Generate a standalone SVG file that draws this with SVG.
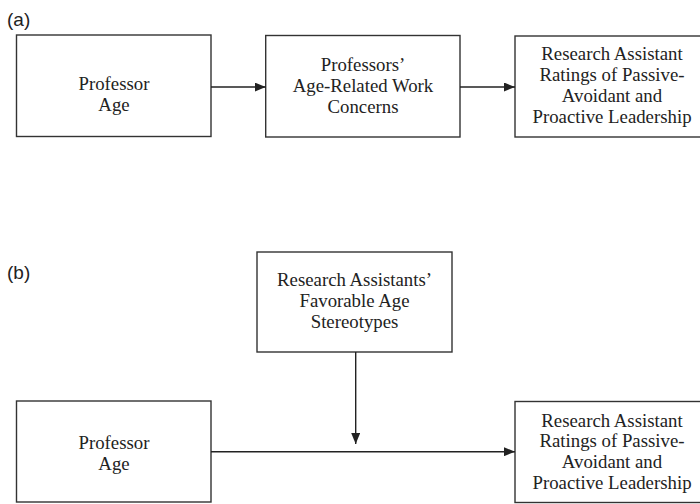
<svg xmlns="http://www.w3.org/2000/svg" width="700" height="504" viewBox="0 0 700 504">
<style>
.box{fill:#fff;stroke:#333;stroke-width:1.4}
.t{font-family:"Liberation Serif","Times New Roman",serif;font-size:18.8px;fill:#222;text-anchor:middle}
.lab{font-family:"Liberation Sans",Arial,sans-serif;font-size:19px;fill:#222}
.c{stroke:#222;stroke-width:1.4;fill:none}
</style>
<defs>
<marker id="ah" markerWidth="11" markerHeight="9" refX="11" refY="4.5" orient="auto" markerUnits="userSpaceOnUse">
<path d="M0,0 L11,4.5 L0,9 Z" fill="#222"/>
</marker>
</defs>
<rect width="700" height="504" fill="#fff"/>
<text class="lab" x="7" y="26">(a)</text>
<text class="lab" x="7" y="279">(b)</text>
<g id="a-professor-age">
<rect class="box" x="16.5" y="35" width="194.5" height="101.5"/>
<text class="t" x="114" y="90">Professor</text>
<text class="t" x="114" y="110.5">Age</text>
</g>
<g id="a-concerns">
<rect class="box" x="265.7" y="35.5" width="194.3" height="101.5"/>
<text class="t" x="363" y="70.5">Professors’</text>
<text class="t" x="363" y="91.5">Age-Related Work</text>
<text class="t" x="363" y="112.5">Concerns</text>
</g>
<g id="a-ratings">
<rect class="box" x="515" y="36" width="200" height="101"/>
<text class="t" x="612" y="60">Research Assistant</text>
<text class="t" x="612" y="81">Ratings of Passive-</text>
<text class="t" x="612" y="102">Avoidant and</text>
<text class="t" x="612" y="123">Proactive Leadership</text>
</g>
<g id="b-stereotypes">
<rect class="box" x="257" y="252" width="195" height="100"/>
<text class="t" x="354.5" y="286">Research Assistants’</text>
<text class="t" x="354.5" y="307">Favorable Age</text>
<text class="t" x="354.5" y="328">Stereotypes</text>
</g>
<g id="b-professor-age">
<rect class="box" x="16.5" y="401" width="194.5" height="101"/>
<text class="t" x="114" y="449">Professor</text>
<text class="t" x="114" y="469.5">Age</text>
</g>
<g id="b-ratings">
<rect class="box" x="515" y="401.5" width="200" height="101"/>
<text class="t" x="612" y="426.5">Research Assistant</text>
<text class="t" x="612" y="447">Ratings of Passive-</text>
<text class="t" x="612" y="467.5">Avoidant and</text>
<text class="t" x="612" y="488.5">Proactive Leadership</text>
</g>
<g id="connectors">
<line class="c" x1="211" y1="87" x2="265.7" y2="87" marker-end="url(#ah)"/>
<line class="c" x1="460" y1="87" x2="515" y2="87" marker-end="url(#ah)"/>
<line class="c" x1="211" y1="451.7" x2="515" y2="451.7" marker-end="url(#ah)"/>
<line class="c" x1="355.7" y1="352" x2="355.7" y2="444" marker-end="url(#ah)"/>
</g>
</svg>
